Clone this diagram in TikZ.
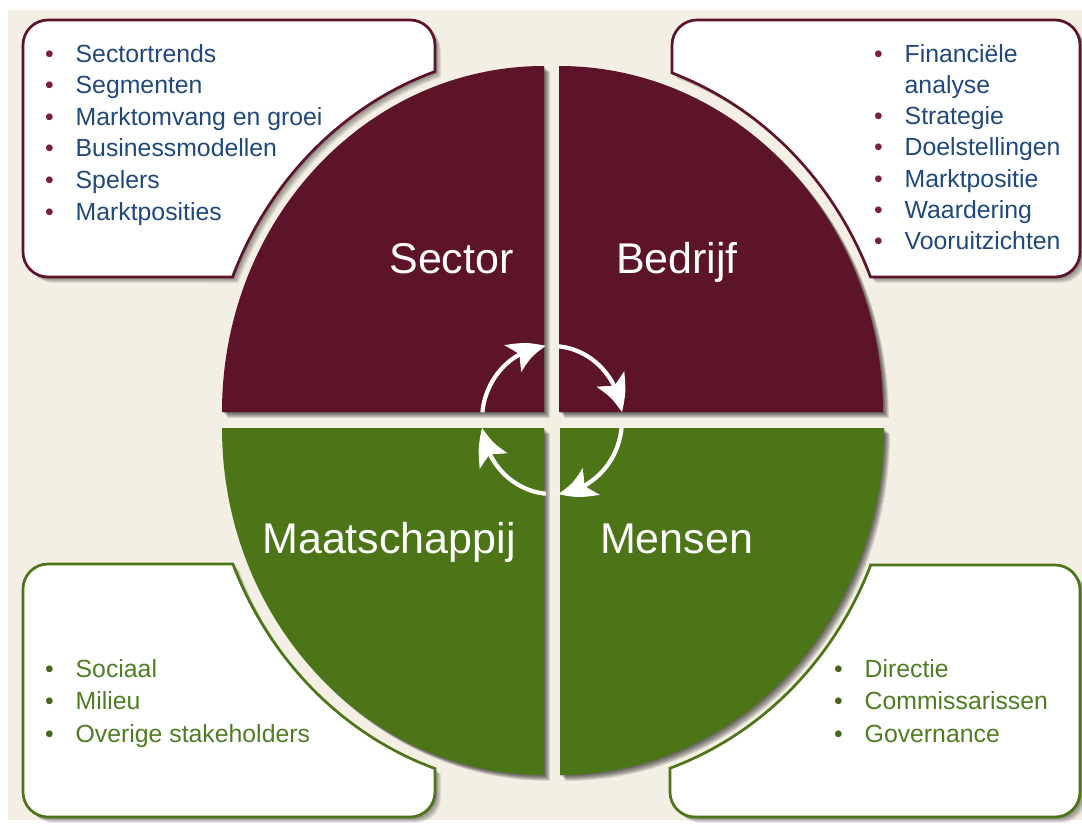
\documentclass[tikz,border=0pt]{standalone}
\usepackage{fontspec}
\setmainfont{Liberation Sans}
\usetikzlibrary{arrows.meta,bending}

\definecolor{bgcream}{HTML}{F4EFE4}
\definecolor{wine}{HTML}{5E1428}
\definecolor{leaf}{HTML}{4B7516}
\definecolor{navytext}{HTML}{1F497D}
\definecolor{leaftext}{HTML}{4F7D23}
\definecolor{winebullet}{HTML}{7A1F3D}
\definecolor{leafbullet}{HTML}{44681F}

% outlines of the four text panels (concave side follows the disc)
\def\boxTL{(23,-45) arc[start angle=180,end angle=90,radius=25] -- (410,-20) arc[start angle=90,end angle=0,radius=25] -- (435,-71.5) arc[start angle=108.93,end angle=157.98,x radius=336,y radius=360] -- (48,-277) arc[start angle=270,end angle=180,radius=25] -- cycle}
\def\boxTR{(672,-45) arc[start angle=180,end angle=90,radius=25] -- (1055,-20) arc[start angle=90,end angle=0,radius=25] -- (1080,-252) arc[start angle=0,end angle=-90,radius=25] -- (870.5,-277) arc[start angle=22.02,end angle=70.35,x radius=336,y radius=360] -- cycle}
\def\boxBR{(870.7,-565) -- (1055,-565) arc[start angle=90,end angle=0,radius=25] -- (1080,-792) arc[start angle=0,end angle=-90,radius=25] -- (695,-817) arc[start angle=270,end angle=180,radius=25] -- (670,-768.2) arc[start angle=-70.89,end angle=-22.37,x radius=336,y radius=360] -- cycle}
\def\boxBL{(48,-564) -- (232.9,-564) arc[start angle=-157.81,end angle=-108.93,x radius=336,y radius=360] -- (435,-792) arc[start angle=0,end angle=-90,radius=25] -- (48,-817) arc[start angle=270,end angle=180,radius=25] -- (23,-589) arc[start angle=180,end angle=90,radius=25] -- cycle}

% the four quarters of the disc
\def\quadTL{(544,-412) -- (222,-412) arc[start angle=180,end angle=90,x radius=322,y radius=346] -- cycle}
\def\quadTR{(559,-412) -- (559,-66) arc[start angle=90,end angle=0,x radius=324,y radius=346] -- cycle}
\def\quadBR{(560,-428) -- (884,-428) arc[start angle=0,end angle=-90,x radius=324,y radius=347] -- cycle}
\def\quadBL{(544,-428) -- (544,-775) arc[start angle=-90,end angle=-180,x radius=322,y radius=347] -- cycle}

% layered soft shadow towards the lower right
\newcommand\softshadow[2]{%
  \foreach \k in {1,...,7}{\fill[black,opacity=#2,shift={(\k*0.85,-\k*0.85)}] #1;}}

\tikzset{
  panelwine/.style={fill=white, draw=wine, line width=2.7pt},
  panelleaf/.style={fill=white, draw=leaf, line width=2.7pt},
  quadlabel/.style={text=white, font=\fontsize{43}{50}\selectfont, anchor=base, inner sep=0},
  itemwine/.style={anchor=base west, inner sep=0, text=navytext,
    font=\fontsize{24.8}{30}\selectfont,
    execute at begin node={\llap{\textcolor{winebullet}{\textbullet}\hspace{22pt}}}},
  itemwinecont/.style={anchor=base west, inner sep=0, text=navytext,
    font=\fontsize{24.8}{30}\selectfont},
  itemleaf/.style={anchor=base west, inner sep=0, text=leaftext,
    font=\fontsize{24.8}{30}\selectfont,
    execute at begin node={\llap{\textcolor{leafbullet}{\textbullet}\hspace{22pt}}}},
  cyclearrow/.style={draw=white, line width=4.2pt,
    -{Stealth[length=36pt 0 0,width=31pt 0,inset=8pt 0,bend]}}
}

\begin{document}
\begin{tikzpicture}[x=1pt,y=1pt]
\useasboundingbox (0,0) rectangle (1082,-825);
\fill[white] (0,0) rectangle (1082,-825);
\fill[bgcream] (8,-10) rectangle (1082,-820);

% text panels
\softshadow{\boxTL}{0.08}
\softshadow{\boxTR}{0.08}
\softshadow{\boxBR}{0.08}
\softshadow{\boxBL}{0.08}
\path[panelwine] \boxTL;
\path[panelwine] \boxTR;
\path[panelleaf] \boxBR;
\path[panelleaf] \boxBL;

% disc quarters
\softshadow{\quadTL}{0.11}
\softshadow{\quadTR}{0.11}
\softshadow{\quadBR}{0.11}
\softshadow{\quadBL}{0.11}
\fill[wine] \quadTL;
\fill[wine] \quadTR;
\fill[leaf] \quadBR;
\fill[leaf] \quadBL;

% cycle arrows around the centre
\coordinate (hub) at (552,-420);
\draw[cyclearrow] ([shift={(174:70 and 74)}]hub) arc[start angle=174,end angle=95,x radius=70,y radius=74];
\draw[cyclearrow] ([shift={(85:70 and 74)}]hub) arc[start angle=85,end angle=6,x radius=70,y radius=74];
\draw[cyclearrow] ([shift={(-6:70 and 74)}]hub) arc[start angle=-6,end angle=-85,x radius=70,y radius=74];
\draw[cyclearrow] ([shift={(-95:70 and 74)}]hub) arc[start angle=-95,end angle=-174,x radius=70,y radius=74];

% quarter titles
\node[quadlabel] (sector) at (451.5,-273) {Sector};
\node[quadlabel] (bedrijf) at (677,-273) {Bedrijf};
\node[quadlabel] (maatschappij) at (389,-553) {Maatschappij};
\node[quadlabel] (mensen) at (676.5,-553) {Mensen};

% panel lists
\foreach \t [count=\i] in {Sectortrends, Segmenten, Marktomvang en groei, Businessmodellen, Spelers, Marktposities}
  \node[itemwine] (sec\i) at (75.5,{-62-31.6*(\i-1)}) {\t};

\node[itemwine] (bed1) at (904.5,-62) {Financiële};
\node[itemwinecont] (bed1b) at (904.5,-93.3) {analyse};
\foreach \t [count=\i from 2] in {Strategie, Doelstellingen, Marktpositie, Waardering, Vooruitzichten}
  \node[itemwine] (bed\i) at (904.5,{-62-31.3*\i}) {\t};

\foreach \t [count=\i] in {Sociaal, Milieu, Overige stakeholders}
  \node[itemleaf] (maa\i) at (75.5,{-677-32.5*(\i-1)}) {\t};

\foreach \t [count=\i] in {Directie, Commissarissen, Governance}
  \node[itemleaf] (men\i) at (864.5,{-677-32.5*(\i-1)}) {\t};
\end{tikzpicture}
\end{document}
